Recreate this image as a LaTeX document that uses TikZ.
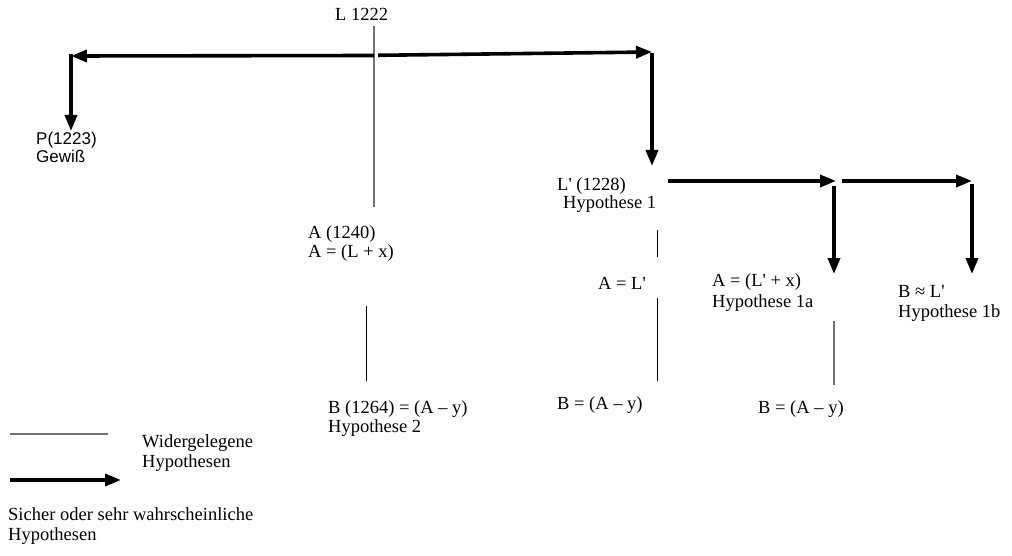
\documentclass[tikz,border=0pt]{standalone}
\usepackage{fontspec}
\newfontfamily\tnrfont{Liberation Serif}
\newfontfamily\arialfont{Liberation Sans}
\usetikzlibrary{arrows.meta}
\begin{document}
\begin{tikzpicture}[x=1pt,y=-1pt,
  lbl/.style={anchor=base west,inner sep=0pt,font=\tnrfont\fontsize{18.5}{20}\selectfont},
  slbl/.style={anchor=base west,inner sep=0pt,font=\arialfont\fontsize{17}{19}\selectfont},
  sure/.style={line width=3.6pt,-{Triangle[length=16pt,width=12pt]}},
  refuted/.style={line width=1pt,black},
  refutedgray/.style={line width=1.2pt,black!55}]
\useasboundingbox (0,0) rectangle (1012,556);
% texts
\node[lbl] (L) at (335,21) {L 1222};
\node[slbl] (P) at (36,145) {P(1223)};
\node[slbl] (Pg) at (36,163) {Gewiß};
\node[lbl] (Lp) at (557,191) {L' (1228)};
\node[lbl] (H1) at (563,209) {Hypothese 1};
\node[lbl] (A) at (308,239) {A (1240)};
\node[lbl] (A2) at (308,258) {A = (L + x)};
\node[lbl] (AL) at (598,289) {A = L'};
\node[lbl] (A1a) at (712,287) {A = (L' + x)};
\node[lbl] (H1a) at (712,307) {Hypothese 1a};
\node[lbl] (B1b) at (898,297) {B ≈ L'};
\node[lbl] (H1b) at (898,317) {Hypothese 1b};
\node[lbl] (B2) at (328,413) {B (1264) = (A – y)};
\node[lbl] (H2) at (328,432) {Hypothese 2};
\node[lbl] (Bm) at (557,409) {B = (A – y)};
\node[lbl] (Br) at (758,413) {B = (A – y)};
\node[lbl] (W) at (142,447) {Widergelegene};
\node[lbl] (W2) at (142,467) {Hypothesen};
\node[lbl] (S) at (8,520) {Sicher oder sehr wahrscheinliche};
\node[lbl] (S2) at (8,540) {Hypothesen};
% coordinates
\coordinate (Ltop) at (374,26);
\coordinate (Lbot) at (374,207);
\coordinate (Lc) at (374,55.5);
\coordinate (Lcr) at (378,55.3);
\coordinate (Pleft) at (71,56);
\coordinate (Ptop) at (71,54);
\coordinate (Ptip) at (71,131);
\coordinate (Rtop) at (652,52);
\coordinate (Rtip) at (652,166);
\coordinate (Hs) at (668,181);
\coordinate (Hm) at (836,181);
\coordinate (Hm2) at (842,181);
\coordinate (He) at (972,181);
\coordinate (V1a) at (834,186);
\coordinate (V1aT) at (834,274);
\coordinate (V1b) at (972,184);
\coordinate (V1bT) at (972,274);
\coordinate (T1) at (657,230);
\coordinate (T2) at (657,257);
\coordinate (T3) at (657,298);
\coordinate (T4) at (657,381);
\coordinate (T5) at (366,306);
\coordinate (T6) at (366,381);
\coordinate (T7) at (834,321);
\coordinate (T8) at (834,385);
\coordinate (G1) at (10,434);
\coordinate (G2) at (108,434);
\coordinate (G3) at (10,480);
\coordinate (G4) at (121,480);
% connectors
\draw[refutedgray] (Ltop) -- (Lbot);
\draw[sure] (Lc) -- (Pleft);
\draw[sure] (Lcr) -- (Rtop);
\draw[sure] (Ptop) -- (Ptip);
\draw[sure] ([yshift=-1.5pt]Rtop) -- (Rtip);
\draw[sure] (Hs) -- (Hm);
\draw[sure] (Hm2) -- (He);
\draw[sure] (V1a) -- (V1aT);
\draw[sure] (V1b) -- (V1bT);
\draw[refuted] (T1) -- (T2);
\draw[refuted] (T3) -- (T4);
\draw[refuted] (T5) -- (T6);
\draw[refutedgray] (T7) -- (T8);
\draw[refutedgray] (G1) -- (G2);
\draw[sure] (G3) -- (G4);
\end{tikzpicture}
\end{document}
